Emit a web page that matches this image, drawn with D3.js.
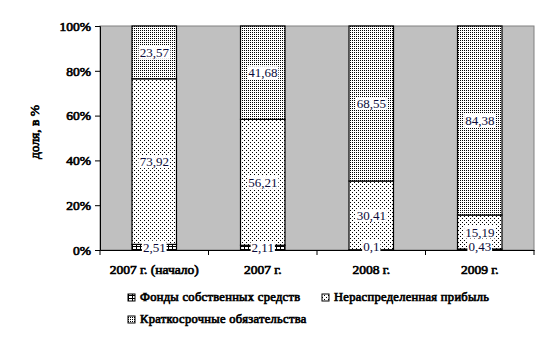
<!DOCTYPE html>
<html>
<head>
<meta charset="utf-8">
<script src="https://cdnjs.cloudflare.com/ajax/libs/d3/7.8.5/d3.min.js"></script>
<style>
	body { margin: 0; background: #fff; }
	.heavy { stroke: #000; stroke-width: 0.7px; font-weight: normal; }
</style>
</head>
<body>
<script>
(function(){

	//pseudo-global variables
	var categories = ["2007 г. (начало)", "2007 г.", "2008 г.", "2009 г."];
	var seriesNames = ["Фонды собственных средств", "Нераспределенная прибыль", "Краткосрочные обязательства"];
	var ownFunds = [2.51, 2.11, 0.1, 0.43];
	var retained = [73.92, 56.21, 30.41, 15.19];
	var shortTerm = [23.57, 41.68, 68.55, 84.38];
	var yTicks = [0, 20, 40, 60, 80, 100];
	var serif = "'Liberation Serif', 'Times New Roman', serif";

	window.onload = setChart();

	function setChart(){
		var width = 548,
			height = 338,
			left = 100,
			right = 534,
			top = 26,
			bottom = 250;

		var svg = d3.select("body")
			.append("svg")
			.attr("width", width)
			.attr("height", height)
			.attr("font-family", serif)
			.style("font-family", serif);

		var defs = svg.append("defs");
		makePatterns(defs);

		var x = d3.scaleBand()
			.domain(categories)
			.range([left, right])
			.paddingInner(0.59)
			.paddingOuter(0.295);

		//100% stacked, so the scale runs over shares
		var y = d3.scaleLinear()
			.domain([0, 1])
			.range([bottom, top]);

		//gray plot area
		svg.append("rect")
			.attr("x", left)
			.attr("y", top)
			.attr("width", right - left)
			.attr("height", bottom - top)
			.attr("fill", "#c0c0c0")
			.attr("stroke", "#808080")
			.attr("stroke-width", 1);

		//build stacked rows
		var rows = categories.map(function(c, i){
			return {cat: c, s0: ownFunds[i], s1: retained[i], s2: shortTerm[i]};
		});
		var stack = d3.stack()
			.keys(["s0", "s1", "s2"])
			.offset(d3.stackOffsetExpand);
		var layers = stack(rows);
		var fills = ["url(#pFunds)", "url(#pRetained)", "url(#pShort)"];

		layers.forEach(function(layer, k){
			svg.selectAll(".bar" + k)
				.data(layer)
				.enter()
				.append("rect")
				.attr("class", "bar" + k)
				.attr("x", function(d){ return x(d.data.cat); })
				.attr("width", x.bandwidth())
				.attr("y", function(d){ return y(d[1]); })
				.attr("height", function(d){ return y(d[0]) - y(d[1]); })
				.attr("fill", fills[k])
				.attr("stroke", "#000")
				.attr("stroke-width", 1.2);
		});

		//y axis
		var yAxis = d3.axisLeft(y)
			.tickValues(yTicks.map(function(v){ return v / 100; }))
			.tickSize(5)
			.tickFormat(function(d){ return Math.round(d * 100) + "%"; });
		var gy = svg.append("g")
			.attr("transform", "translate(" + left + ",0)")
			.call(yAxis);
		gy.attr("font-family", serif).attr("font-size", null);
		gy.select(".domain").attr("stroke", "#000");
		gy.selectAll(".tick text")
			.attr("class", "heavy")
			.attr("fill", "#000")
			.attr("x", -9)
			.style("font-size", "13.5px");

		//x axis
		var xAxis = d3.axisBottom(x).tickSize(0).tickPadding(14);
		var gx = svg.append("g")
			.attr("transform", "translate(0," + bottom + ")")
			.call(xAxis);
		gx.attr("font-family", serif).attr("font-size", null);
		gx.select(".domain").attr("stroke", "#000");
		gx.selectAll(".tick text")
			.attr("class", "heavy")
			.attr("fill", "#000")
			.style("font-size", "13.5px");
		var seps = d3.range(categories.length + 1).map(function(i){
			return left + i * x.step();
		});
		gx.selectAll(".sep")
			.data(seps)
			.enter()
			.append("line")
			.attr("x1", function(d){ return d; })
			.attr("x2", function(d){ return d; })
			.attr("y1", 0)
			.attr("y2", 5)
			.attr("stroke", "#000");

		//y title
		svg.append("text")
			.attr("class", "heavy")
			.attr("transform", "translate(39,132) rotate(-90)")
			.attr("text-anchor", "middle")
			.style("font-size", "13.5px")
			.text("доля, в %");

		//data labels
		layers.forEach(function(layer, k){
			layer.forEach(function(d, i){
				var val = [ownFunds, retained, shortTerm][k][i];
				var txt = String(val).replace(".", ",");
				var cx = x(d.data.cat) + x.bandwidth() / 2;
				var cy = y((d[0] + d[1]) / 2);
				if (val < 1) cy = y(0) - 4;
				var g = svg.append("g");
				var t = g.append("text")
					.attr("x", cx)
					.attr("y", cy + 4.5)
					.attr("text-anchor", "middle")
					.attr("fill", "#0a0a3a")
					.style("font-size", "13px")
					.text(txt);
				var bb = t.node().getBBox();
				g.insert("rect", "text")
					.attr("x", bb.x - 1)
					.attr("y", bb.y + 1)
					.attr("width", bb.width + 2)
					.attr("height", bb.height - 2)
					.attr("fill", "#fff");
			});
		});

		//legend
		var legPos = [[128, 301], [322, 301], [128, 323]];
		seriesNames.forEach(function(name, k){
			var g = svg.append("g")
				.attr("transform", "translate(" + legPos[k][0] + "," + legPos[k][1] + ")");
			g.append("rect")
				.attr("x", 0)
				.attr("y", -7)
				.attr("width", 7)
				.attr("height", 7)
				.attr("fill", fills[k])
				.attr("stroke", "#000")
				.attr("stroke-width", 1);
			g.append("text")
				.attr("class", "heavy")
				.attr("x", 12)
				.attr("y", 0)
				.style("font-size", "12.5px")
				.style("letter-spacing", "0.3px")
				.text(name);
		});
	};

	function makePatterns(defs){
		//brick grid for own funds
		var p0 = defs.append("pattern")
			.attr("id", "pFunds")
			.attr("patternUnits", "userSpaceOnUse")
			.attr("width", 4).attr("height", 3);
		p0.append("rect").attr("width", 4).attr("height", 3).attr("fill", "#fff");
		p0.append("rect").attr("x", 0).attr("y", 0).attr("width", 4).attr("height", 1).attr("fill", "#000");
		p0.append("rect").attr("x", 0).attr("y", 0).attr("width", 1).attr("height", 3).attr("fill", "#000");

		//sparse diagonal dots for retained earnings
		var p1 = defs.append("pattern")
			.attr("id", "pRetained")
			.attr("patternUnits", "userSpaceOnUse")
			.attr("width", 4).attr("height", 4);
		p1.append("rect").attr("width", 4).attr("height", 4).attr("fill", "#fff");
		p1.append("rect").attr("x", 0).attr("y", 0).attr("width", 1).attr("height", 1).attr("fill", "#000");
		p1.append("rect").attr("x", 2).attr("y", 2).attr("width", 1).attr("height", 1).attr("fill", "#000");

		//dense dots for short-term liabilities
		var p2 = defs.append("pattern")
			.attr("id", "pShort")
			.attr("patternUnits", "userSpaceOnUse")
			.attr("width", 2).attr("height", 2);
		p2.append("rect").attr("width", 2).attr("height", 2).attr("fill", "#fff");
		p2.append("rect").attr("x", 0).attr("y", 0).attr("width", 1).attr("height", 1).attr("fill", "#000");
	};

})();
</script>
</body>
</html>
